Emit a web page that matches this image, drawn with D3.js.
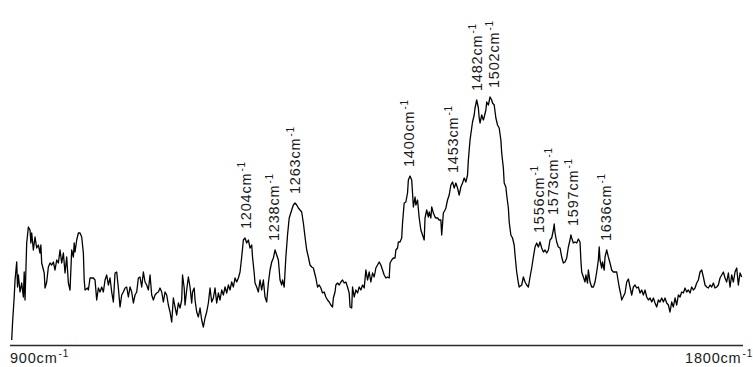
<!DOCTYPE html>
<html>
<head>
<meta charset="utf-8">
<script src="https://cdn.jsdelivr.net/npm/d3@7"></script>
<style>
  html, body { margin: 0; padding: 0; background: #fff; }
  svg { display: block; }
  text { font-family: "Liberation Sans", Arial, sans-serif; fill: #1a1a1a; }
</style>
</head>
<body>
<svg id="chart" width="753" height="367"></svg>
<script>
// Raman shift (cm-1) and intensity (a.u.) of the spectrum
const wavenumbers = [
  924,925,927,928,930,931,932,934,936,938,939,940,942,944,946,947,948,950,952,954,
  956,958,959,960,963,964,966,968,970,972,974,976,978,980,982,984,986,988,990,992,
  994,996,998,999,1000,1002,1004,1006,1008,1010,1011,1012,1015,1016,1018,1022,1024,1026,1028,1030,
  1032,1034,1036,1038,1040,1042,
  1044,1046,1048,1050,1052,1054,1056,1058,1060,1062,1064,1066,1068,1070,1072,1074,1076,1078,1080,1082,
  1084,1086,1088,1090,1092,1094,1096,1098,1100,1102,1104,1106,1108,1110,1112,1114,1116,1118,1120,1122,
  1124,1126,1128,1129,1131,1132,1134,1136,1138,1140,1141,1143,1144,1146,1148,1150,1152,1154,1156,1158,
  1160,1162,1164,1166,1168,
  1170,1172,1174,1176,1178,1180,1182,1184,1186,1188,1190,1192,1194,1196,1198,1200,1202,1204,1206,1208,
  1210,1212,1213,1215,1216,1218,1220,1222,1224,1226,1228,1230,1232,1234,1236,1238,1240,1242,1244,1246,
  1248,1249,1251,1253,1255,1257,1260,1262,1264,1266,1268,1270,1272,1274,1276,1278,1280,1282,1284,1286,
  1289,1291,1293,1295,1297,1299,1301,1303,1305,1307,1309,1310,1312,1313,1315,1317,1319,1321,1323,1325,
  1327,1329,1330,1332,1333,1335,1337,1339,1341,1343,1345,1347,1349,1351,1353,1355,1357,1359,1361,1363,
  1365,1367,1369,1371,1373,1375,1377,1378,1380,1382,1384,1385,1387,1388,1390,1392,1393,1395,1397,1399,
  1400,1402,1404,1405,1406,1408,1409,1411,
  1413,1415,1417,1419,1420,1422,1424,1425,1427,1428,1430,1432,1433,1435,1437,1439,1440,1442,1444,1445,
  1447,1449,1451,1453,1455,1457,1459,1461,1463,1465,1467,1469,1471,1472,1474,1476,1477,1479,1480,1482,
  1484,1485,1486,1488,1490,1491,1493,1494,1496,1498,1500,1501,1503,1505,1507,1509,1511,1512,1514,1515,
  1517,1518,1520,1521,1523,1525,1527,1528,1530,1532,1533,
  1536,1538,1540,1542,1544,1546,1548,1550,1552,1554,1556,1558,1560,1562,1564,1566,1568,1570,1572,1574,
  1575,1576,1578,1580,1582,1584,1586,1588,1590,1592,1594,1595,1596,1598,1600,1602,1604,1606,1607,1608,
  1610,1612,1613,1615,1616,1618,1620,1622,1624,1626,1628,1629,1630,1632,1633,1635,1636,1638,1640,1642,
  1644,1646,1648,1650,1652,1653,1655,1656,
  1660,1662,1664,1666,1668,1670,1672,1674,1676,1678,1680,1682,1684,1686,1688,1690,1692,1694,1696,1698,
  1700,1702,1704,1706,1708,1710,1712,1714,1716,1718,1720,1722,1724,1726,1728,1730,1732,1734,1736,1738,
  1740,1742,1744,1746,1748,1750,1752,1754,1756,1758,1760,1762,1764,1766,1768,1770,1772,1774,1776,1778,
  1780,1782,1784,1786,1788,1790,1792,1794,1796,1798,1800
];

const intensities = [
  5,22,48,65,83,58,70,53,62,48,73,45,102,118,115,102,112,95,108,97,
  100,92,100,82,72,57,63,78,82,80,83,75,85,82,95,82,92,72,88,62,
  55,95,88,102,93,105,112,112,108,92,65,55,57,55,67,67,65,45,57,53,
  58,53,65,70,60,67,
  53,43,72,73,57,38,50,53,57,58,48,58,53,42,50,53,67,68,58,73,
  63,60,55,70,50,45,50,52,53,57,53,43,53,50,40,33,23,47,38,30,
  42,37,45,70,57,40,55,68,58,42,53,57,45,33,28,37,25,18,27,33,
  42,57,43,47,57,
  42,52,45,55,50,58,52,60,55,63,58,67,63,67,73,88,105,107,102,105,
  97,100,88,72,62,58,53,65,55,65,48,43,62,75,83,87,95,90,85,65,
  60,65,58,88,110,127,135,140,142,140,137,135,133,122,108,95,88,80,78,77,
  67,58,60,57,52,53,48,45,43,40,38,47,53,60,62,60,63,65,62,63,
  58,52,38,37,58,48,55,52,58,55,60,57,75,65,73,63,72,68,77,80,
  83,80,75,70,67,68,67,82,85,87,87,95,97,103,103,107,122,142,143,152,
  165,169,165,152,138,148,140,145,
  127,115,110,105,127,135,128,133,127,138,132,128,127,127,125,125,110,132,135,137,
  145,150,160,163,157,162,157,150,158,162,167,163,170,185,205,217,223,230,237,245,
  237,227,222,230,225,228,235,243,240,248,245,242,240,227,220,217,205,192,177,162,
  158,150,137,123,110,107,100,90,73,62,58,
  60,68,63,60,58,68,77,88,98,102,98,103,97,93,95,92,95,105,107,115,
  121,112,103,98,97,88,82,83,87,98,105,110,107,102,103,102,106,103,85,73,
  68,63,70,62,75,63,58,58,63,73,85,98,85,77,83,75,88,95,88,82,
  75,73,73,73,63,58,50,45,
  52,63,66,58,50,58,60,57,58,52,55,50,55,48,45,47,43,47,42,38,
  45,43,47,43,47,42,40,33,43,38,47,40,50,48,53,52,57,53,55,52,
  58,55,57,62,65,73,75,68,60,58,57,60,58,62,57,58,60,67,70,73,
  67,63,72,58,70,63,73,77,60,72,68
];

// Assigned band positions (cm-1)
const peakLabels = [1204, 1238, 1263, 1400, 1453, 1482, 1502, 1556, 1573, 1597, 1636];

// Range end labels of the shift axis
const axisEnds = [900, 1800];
const unitText = "cm";
const unitExp = "-1";

const svg = d3.select("#chart");
const W = 753, H = 367;
const axisY = 345;
const axisLeft = 10, axisRight = 743;

const x = d3.scaleLinear().domain([900, 1800]).range([-8.3, 741.7]);
const y = d3.scaleLinear().domain([0, 345]).range([axisY, 0]);

const points = wavenumbers.map((w, i) => [w, intensities[i]]);

// baseline
svg.append("line")
  .attr("x1", axisLeft).attr("x2", axisRight)
  .attr("y1", axisY + 0.5).attr("y2", axisY + 0.5)
  .attr("stroke", "#2a2a2a").attr("stroke-width", 1.6);

// spectrum trace
svg.append("path")
  .datum(points)
  .attr("fill", "none")
  .attr("stroke", "#000")
  .attr("stroke-width", 1.3)
  .attr("stroke-linejoin", "round")
  .attr("d", d3.line().x(d => x(d[0])).y(d => y(d[1])));

// value + "cm" with a raised "-1"
function unitLabel(sel, value) {
  sel.attr("font-size", "14.5px").attr("letter-spacing", "0.8px");
  sel.append("tspan").text(value + unitText);
  sel.append("tspan").attr("dx", 1).attr("dy", -6).attr("font-size", "10px").text(unitExp);
}

svg.append("text")
  .attr("x", axisLeft)
  .attr("y", 363)
  .call(unitLabel, axisEnds[0]);

svg.append("text")
  .attr("x", W)
  .attr("y", 363)
  .attr("text-anchor", "end")
  .call(unitLabel, axisEnds[1]);

// band labels, placed just above the local maximum of the trace
function localMax(w) {
  let m = 0;
  points.forEach(p => { if (Math.abs(p[0] - w) <= 4 && p[1] > m) m = p[1]; });
  return m;
}

svg.selectAll("text.peak")
  .data(peakLabels)
  .enter()
  .append("text")
  .attr("class", "peak")
  .attr("transform", d => `translate(${x(d) + 5.5},${y(localMax(d)) - 9}) rotate(-90)`)
  .each(function (d) { d3.select(this).call(unitLabel, d); });
</script>
</body>
</html>
